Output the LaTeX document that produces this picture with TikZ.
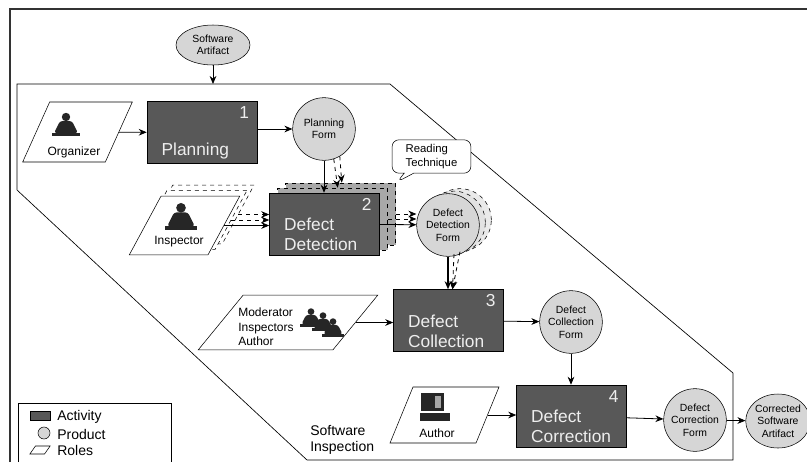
\documentclass[tikz,border=0pt]{standalone}
\usepackage{fontspec}
\setmainfont{Liberation Sans}
\usepackage{tikz}
\usetikzlibrary{shapes.geometric,shapes.callouts,arrows.meta}
\definecolor{actgray}{RGB}{88, 88, 88}
\definecolor{prodgray}{RGB}{214, 214, 214}
\definecolor{stackgray}{RGB}{168, 168, 168}
\definecolor{boxtext}{RGB}{238, 238, 238}
\definecolor{icongray}{RGB}{38, 38, 38}

\tikzset{
  arr/.style={-{Stealth[length=6pt,width=5pt]}, line width=0.6pt},
  activity/.style={draw=black, fill=actgray, minimum width=82.5pt, minimum height=46.5pt, inner sep=0pt},
  actnum/.style={anchor=north east, inner sep=1pt, text=boxtext, font=\fontsize{13}{15}\selectfont},
  actlabel/.style={anchor=south west, inner sep=1pt, align=left, text=boxtext, font=\fontsize{13}{15}\selectfont},
  product/.style={circle, draw=black, fill=prodgray, minimum size=47pt, inner sep=0pt, align=center,
    font=\fontsize{7.8}{9.4}\selectfont},
  artifact/.style={ellipse, draw=black, fill=prodgray, inner sep=0pt, align=center,
    font=\fontsize{7.8}{9.4}\selectfont},
  % parallelogram: a slanted rectangle, #1 = slant
  role/.style={draw=black, fill=white, inner sep=0pt, xslant=#1, transform shape},
  role/.default=0.45,
  rolelabel/.style={inner sep=0pt, align=left, font=\fontsize{9}{10.9}\selectfont},
  legendtext/.style={anchor=west, inner sep=0pt, font=\fontsize{10.5}{12}\selectfont},
  person/.pic={
    \fill[icongray] (0,-8) circle (4.2);
    \fill[icongray, rounded corners=2pt] (-6,-4) -- (6,-4) -- (12,8) -- (-12,8) -- cycle;
    \fill[icongray] (-14,8) rectangle (14,11);
  },
  computer/.pic={
    \fill[icongray] (-15,-14) rectangle (8,4);
    \fill[gray!70] (-1,-11) rectangle (5,1);
    \fill[icongray] (-16,6) rectangle (14,14);
  },
}

\begin{document}
\begin{tikzpicture}[x=0.75pt, y=-0.75pt]
  \useasboundingbox (0,0) rectangle (807,462);

  % page frame and process boundary
  \draw[line width=0.8pt, black!80] (10,462) -- (10,9) -- (807,9);
  \draw[line width=0.5pt] (17,84) -- (390,84) -- (733,373) -- (733,460)
    -- (307,460) -- (17,190) -- cycle;
  \node[anchor=west, inner sep=0pt, align=left, font=\fontsize{10.5}{12}\selectfont]
    (insp-label) at (310,440) {Software\\Inspection};

  % input artifact
  \node[artifact, minimum width=55.5pt, minimum height=30pt] (art) at (213,45) {Software\\Artifact};
  \coordinate (insp-top) at (213,84);
  \draw[arr] (art) -- (insp-top);

  % step 1
  \node[role=0.45, minimum width=62pt, minimum height=45pt] (org) at (77.5,132) {};
  \pic at (66,125) {person};
  \node[rolelabel] (org-l) at (74,152) {Organizer};
  \node[activity] (plan) at (202,132.5) {};
  \node[actnum] (plan-n) at ([xshift=-5pt,yshift=-3pt]plan.north east) {1};
  \node[actlabel] (plan-l) at ([xshift=10pt,yshift=2pt]plan.south west) {Planning};
  \node[product] (pf) at (324,129) {Planning\\Form};
  \draw[arr] (org) -- (plan);
  \draw[arr] (plan.east |- pf) -- (pf);

  % step 2, done by several inspectors
  \node[role=0.54, dashed, fill=none, minimum width=61pt, minimum height=44pt] (insp-c2) at (197.5,214.5) {};
  \node[role=0.54, dashed, minimum width=60pt, minimum height=44pt] (insp-c1) at (191,220) {};
  \node[role=0.54, minimum width=59pt, minimum height=44pt] (insp) at (184.5,225.5) {};
  \pic[scale=1.15] at (181,217) {person};
  \node[rolelabel] (insp-l) at (179,242) {Inspector};

  \node[activity, dashed, fill=stackgray] (det-c2) at (340.5,214) {};
  \node[activity, dashed, fill=stackgray] (det-c1) at (332.5,219) {};
  \node[activity] (det) at (324.5,224) {};
  \node[actnum] (det-n) at ([xshift=-5pt,yshift=-3pt]det.north east) {2};
  \node[actlabel] (det-l) at ([xshift=10pt,yshift=2pt]det.south west) {Defect\\Detection};

  \node[product, dashed, fill=prodgray!50] (ddf-c2) at (460,220) {};
  \node[product, dashed, fill=prodgray!70] (ddf-c1) at (454,222.5) {};
  \node[product] (ddf) at (448,225) {Defect\\Detection\\Form};

  \node[rectangle callout, rounded corners=5pt, draw=black, fill=white, align=left,
    minimum width=59pt, minimum height=25pt, inner sep=2pt,
    callout absolute pointer={(397,182)}, font=\fontsize{8.5}{11}\selectfont]
    (read) at (431.5,156.5) {Reading\\Technique};

  \draw[arr] (pf) -- (pf |- det.north);
  \draw[arr, dashed] (pf.-72) -- ([xshift=3pt]det-c1.north -| pf.-72);
  \draw[arr, dashed] (pf.-60) -- ([xshift=6pt]det-c2.north -| pf.-72);
  \draw[arr, dashed] (insp-c2.east) -- (insp-c2.east -| det.west);
  \draw[arr, dashed] (insp-c1.east) -- (insp-c1.east -| det.west);
  \draw[arr] (insp) -- (insp -| det.west);
  \draw[arr, dashed] (det-c2.east) -- (det-c2.east -| ddf.west);
  \draw[arr, dashed] (det-c1.east) -- (det-c1.east -| ddf.west);
  \draw[arr] (det) -- (ddf);

  % step 3
  \node[role=0.82, minimum width=101pt, minimum height=41pt] (mod) at (288,322.5) {};
  \pic[scale=0.8] at (311,318) {person};
  \pic[scale=0.8] at (323,322) {person};
  \pic[scale=0.8] at (333,328) {person};
  \node[rolelabel, anchor=west] (mod-l) at (238,327) {Moderator\\Inspectors\\Author};
  \node[activity] (dc) at (448.5,320.5) {};
  \node[actnum] (dc-n) at ([xshift=-5pt,yshift=-3pt]dc.north east) {3};
  \node[actlabel] (dc-l) at ([xshift=10pt,yshift=2pt]dc.south west) {Defect\\Collection};
  \node[product] (dcf) at (571,322) {Defect\\Collection\\Form};
  \draw[arr, dashed] (ddf-c1.south) -- ([xshift=3pt]dc.north);
  \draw[arr, dashed] (ddf-c2.south) -- ([xshift=3pt]dc.north);
  \draw[arr, line width=0.9pt] (ddf) -- (ddf |- dc.north);
  \draw[arr] (mod) -- (mod -| dc.west);
  \draw[arr] (dc) -- (dcf);

  % step 4
  \node[role=0.41, minimum width=64.5pt, minimum height=42pt] (auth) at (444.5,415) {};
  \pic at (436,407) {computer};
  \node[rolelabel] (auth-l) at (437,433) {Author};
  \node[activity] (dcor) at (571.5,416) {};
  \node[actnum] (dcor-n) at ([xshift=-5pt,yshift=-3pt]dcor.north east) {4};
  \node[actlabel] (dcor-l) at ([xshift=10pt,yshift=2pt]dcor.south west) {Defect\\Correction};
  \node[product] (dcrf) at (695,420) {Defect\\Correction\\Form};
  \node[artifact, minimum width=45pt, minimum height=40.5pt] (csa) at (778,421) {Corrected\\Software\\Artifact};
  \draw[arr] (dcf) -- (dcf |- dcor.north);
  \draw[arr] (auth) -- (auth -| dcor.west);
  \draw[arr] (dcor) -- (dcrf);
  \draw[arr] (dcrf) -- (csa);

  % legend
  \draw[line width=0.6pt] (18,462) -- (18,403) -- (171,403) -- (171,462);
  \node[draw=black, fill=actgray, minimum width=15pt, minimum height=7pt, inner sep=0pt] (leg-act) at (40,416) {};
  \node[legendtext] (leg-act-t) at (57,417) {Activity};
  \node[circle, draw=black, fill=prodgray, minimum size=9pt, inner sep=0pt] (leg-prod) at (44,433) {};
  \node[legendtext] (leg-prod-t) at (57,434) {Product};
  \node[role=0.7, minimum width=11pt, minimum height=6pt] (leg-role) at (40,450) {};
  \node[legendtext] (leg-role-t) at (57,450) {Roles};
\end{tikzpicture}
\end{document}
